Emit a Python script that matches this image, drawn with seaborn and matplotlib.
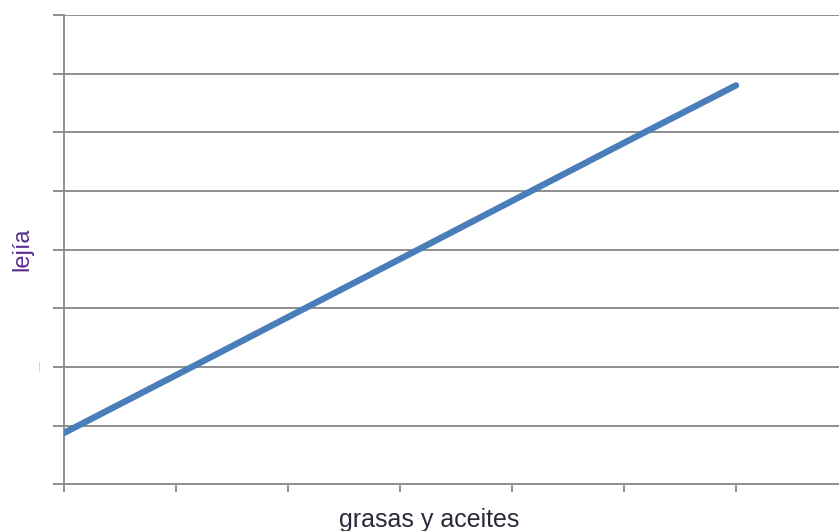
import matplotlib
matplotlib.use("Agg")
import matplotlib.pyplot as plt
import seaborn as sns
import pandas as pd

# Series values: lejía against grasas y aceites
grasas = [0, 1, 2, 3, 4, 5, 6]
lejia = [0.875, 1.86, 2.85, 3.84, 4.83, 5.82, 6.80]

x_ticks = [0, 1, 2, 3, 4, 5, 6]
y_ticks = [0, 1, 2, 3, 4, 5, 6, 7, 8]

x_label = "grasas y aceites"
y_label = "lejía"

sns.set_theme(style="white")
plt.rcParams["font.family"] = ["Liberation Sans", "DejaVu Sans"]

GRID = "#8e8e8e"
LINE = "#4a7ebb"

fig = plt.figure(figsize=(8.39, 5.31), dpi=100)
ax = fig.add_axes([64 / 839, (531 - 484.3) / 531, 1 - 64 / 839, (484.3 - 15) / 531])

df = pd.DataFrame({"grasas": grasas, "lejia": lejia})
sns.lineplot(data=df, x="grasas", y="lejia", ax=ax, color=LINE, linewidth=4.6,
             solid_capstyle="round", solid_joinstyle="round", zorder=3)

ax.set_xticks(x_ticks)
ax.set_yticks(y_ticks)
ax.set_xticklabels([])
ax.set_yticklabels([])
ax.set_xlim(0, 775 / 112)
ax.set_ylim(0, 8)
ax.set_xlabel("")
ax.set_ylabel("")

ax.yaxis.grid(True, color=GRID, linewidth=1.4)
ax.xaxis.grid(False)
ax.set_axisbelow(True)

for side in ("top", "right"):
    ax.spines[side].set_visible(False)
for side in ("left", "bottom"):
    ax.spines[side].set_color(GRID)
    ax.spines[side].set_linewidth(1.4)
    ax.spines[side].set_zorder(2)

ax.tick_params(axis="y", direction="out", length=8, width=1.4, color=GRID, left=True)
ax.tick_params(axis="x", direction="out", length=6, width=1.4, color=GRID, bottom=True)
for t in ax.get_xticklines() + ax.get_yticklines():
    t.set_clip_on(False)

fig.text(429.5 / 839, (531 - 527) / 531, x_label, ha="center", va="baseline",
         fontsize=18, color="#2a2a3a")
fig.text(22 / 839, (531 - 249) / 531, y_label, ha="center", va="center",
         rotation=90, fontsize=17, color="#5b2d90")
fig.text(39 / 839, (531 - 367) / 531, "|", ha="center", va="center",
         fontsize=8, color="#a9d8fa")

fig.savefig("out.png", dpi=100)
